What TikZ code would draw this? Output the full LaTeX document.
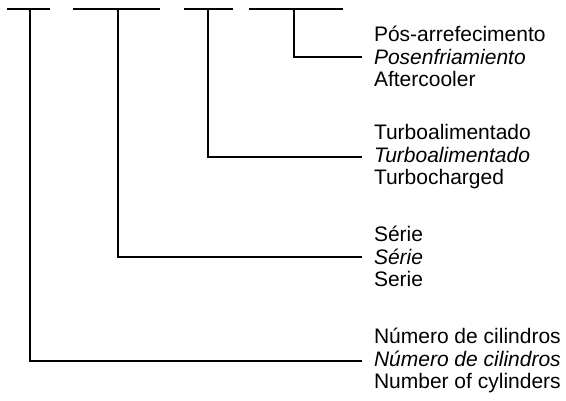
\documentclass[tikz,border=0pt]{standalone}
\usepackage{fontspec}
\setmainfont{Liberation Sans}
\begin{document}
\begin{tikzpicture}[x=1pt, y=-1pt, line width=2pt,
		term/.style={anchor=west, align=left, inner xsep=11pt, inner ysep=0pt, font=\fontsize{21}{22.6}\selectfont}]
		\useasboundingbox (0, 0) rectangle (566, 401);
		\draw (7, 9) -- (50, 9);
		\draw (73, 9) -- (160, 9);
		\draw (184, 9) -- (233, 9);
		\draw (249, 9) -- (343, 9);
		\coordinate (cyl) at (30, 9);
		\coordinate (ser) at (118, 9);
		\coordinate (tur) at (208, 9);
		\coordinate (aft) at (294, 9);
		\node[term] (aftercooler) at (362, 56.7) {Pós-arrefecimento\\\textit{Posenfriamiento}\\Aftercooler};
		\node[term] (turbo) at (362, 156.7) {Turboalimentado\\\textit{Turboalimentado}\\Turbocharged};
		\node[term] (serie) at (362, 256.7) {Série\\\textit{Série}\\Serie};
		\node[term] (cylinders) at (362, 360.7) {Número de cilindros\\\textit{Número de cilindros}\\Number of cylinders};
		\draw (aft) |- (aftercooler.west);
		\draw (tur) |- (turbo.west);
		\draw (ser) |- (serie.west);
		\draw (cyl) |- (cylinders.west);
	\end{tikzpicture}
\end{document}
